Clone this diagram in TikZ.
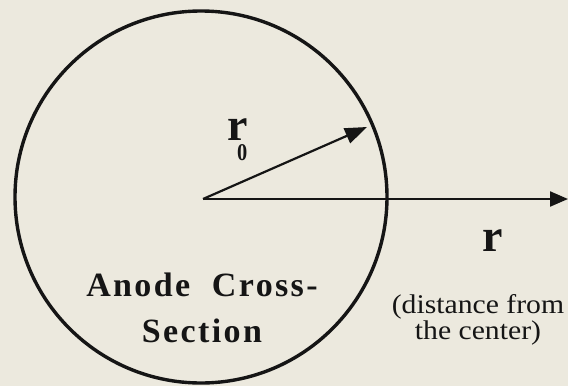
\documentclass[tikz,border=0pt]{standalone}
\usepackage{fontspec}
\setmainfont{Liberation Serif}
\usetikzlibrary{arrows.meta}
\definecolor{paper}{HTML}{ECE9DE}
\definecolor{ink}{HTML}{151515}
\tikzset{
  vec/.style={draw=ink, line width=2.2pt, -{Triangle[length=22pt,width=16pt]}},
  lbl/.style={inner sep=0pt, text=ink},
}
\begin{document}
\begin{tikzpicture}[x=1pt,y=-1pt]
\fill[paper] (0,0) rectangle (568,386);
\useasboundingbox (0,0) rectangle (568,386);
\node[circle, draw=ink, line width=3.4pt, minimum size=372pt, inner sep=0pt] (anode) at (201,197) {};
\coordinate (O) at (203,199);
\coordinate (R0) at (367,127);
\coordinate (Rend) at (568,199);
\draw[vec] (O) -- (R0);
\draw[vec, -{Triangle[length=18pt,width=15pt]}] (O) -- (Rend);
\node[lbl, anchor=base, font=\fontsize{46}{46}\selectfont\bfseries] (r0) at (238,140)
  {r\makebox[0pt][r]{\raisebox{-20pt}{\fontsize{24}{24}\selectfont\scalebox{0.85}[1]{0}}\hspace{1pt}}};
\node[lbl, font=\fontsize{46}{46}\selectfont\bfseries] (r) at (493,241) {r};
\node[lbl, font=\fontsize{27}{22}\selectfont, align=center, xscale=1.1] (dist) at (478,320) {(distance from\\the center)};
\node[lbl, font=\fontsize{34}{46}\selectfont\bfseries, align=center] (lab) at (202,308) {\addfontfeatures{LetterSpace=7}Anode~~Cross-\\\addfontfeatures{LetterSpace=7}Section};
\end{tikzpicture}
\end{document}
